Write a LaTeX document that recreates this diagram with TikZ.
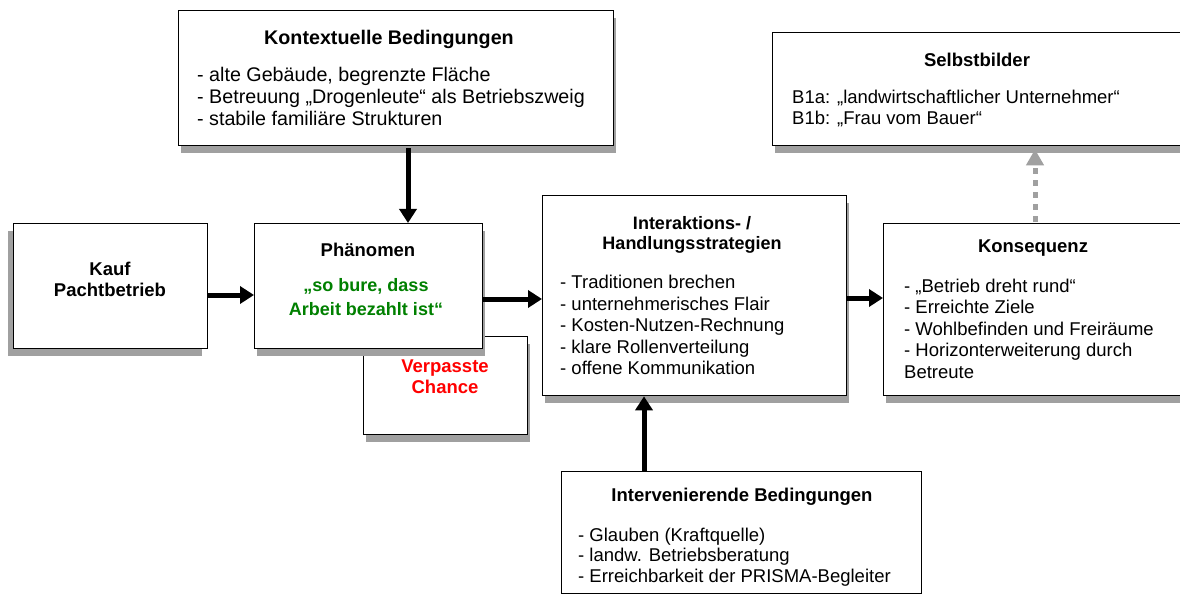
\documentclass[tikz,border=0pt]{standalone}
\usepackage{fontspec}
\setmainfont{Liberation Sans}
\usetikzlibrary{arrows.meta,shadows}
\definecolor{shadowgray}{HTML}{A0A0A0}
\definecolor{txtgreen}{HTML}{008000}
\definecolor{txtred}{HTML}{FF0000}
\begin{document}
\begin{tikzpicture}[x=1pt,y=-1pt,
  box/.style={draw=black, line width=1.3pt, fill=white, rectangle, inner sep=0pt, anchor=north west},
  shad/.style={drop shadow={shadow xshift=2pt, shadow yshift=-7pt, fill=shadowgray, opacity=1}},
  shadl/.style={drop shadow={shadow xshift=-6pt, shadow yshift=-7pt, fill=shadowgray, opacity=1}},
  txt/.style={font=\fontsize{18.5}{21.5}\selectfont, inner sep=0pt, align=left, anchor=west},
  ttl/.style={font=\fontsize{18.5}{21}\selectfont\bfseries, inner sep=0pt, align=center},
  bigtxt/.style={txt, font=\fontsize{19.7}{21.6}\selectfont},
  bigttl/.style={ttl, font=\fontsize{19.7}{21}\selectfont\bfseries},
  arr/.style={line width=5pt, -{Triangle[length=14pt,width=17pt]}},
  darr/.style={line width=5pt, draw=shadowgray, dash pattern=on 6pt off 6pt, -{Triangle[length=16pt,width=17pt,fill=shadowgray]}}
]
\useasboundingbox (0,0) rectangle (1180,604);

% boxes
\node[box, shad, minimum width=435pt, minimum height=135pt] (kontext) at (178,10) {};
\node[box, shadl, minimum width=194pt, minimum height=125pt] (kauf) at (13,223) {};
\node[box, shad, minimum width=164pt, minimum height=98pt] (verp) at (363,336) {};
\node[box, shad, minimum width=228pt, minimum height=125pt] (phaen) at (254,223) {};
\node[box, shad, minimum width=304pt, minimum height=200pt] (inter) at (542,195) {};
\node[box, shad, minimum width=307pt, minimum height=172pt] (kons) at (883,223) {};
\node[box, shad, minimum width=418pt, minimum height=113pt] (selbst) at (772,32) {};
\node[box, minimum width=360pt, minimum height=122pt] (interv) at (561,471) {};

% texts
\node[bigttl] (kontextT) at (389,39) {Kontextuelle Bedingungen};
\node[bigtxt] (kontextL) at (197,96.5) {- alte Gebäude, begrenzte Fläche\\- Betreuung „Drogenleute“ als Betriebszweig\\- stabile familiäre Strukturen};

\node[ttl] (kaufT) at (110,279) {Kauf\\Pachtbetrieb};

\node[ttl] (phaenT) at (368,250) {Phänomen};
\node[ttl, text=txtgreen, font=\fontsize{18}{24}\selectfont\bfseries] (phaenG) at (366,297) {„so bure, dass\\Arbeit bezahlt ist“};

\node[ttl, text=txtred] (verpT) at (445,377) {Verpasste\\Chance};

\node[ttl, font=\fontsize{18}{20.5}\selectfont\bfseries] (interT) at (692,235) {Interaktions- /\\Handlungsstrategien};
\node[txt] (interL) at (560,325) {- Traditionen brechen\\- unternehmerisches Flair\\- Kosten-Nutzen-Rechnung\\- klare Rollenverteilung\\- offene Kommunikation};

\node[ttl] (konsT) at (1033,248) {Konsequenz};
\node[txt] (konsL) at (904,328.5) {- „Betrieb dreht rund“\\- Erreichte Ziele\\- Wohlbefinden und Freiräume\\- Horizonterweiterung durch\\Betreute};

\node[ttl] (selbstT) at (977,60) {Selbstbilder};
\node[txt] (selbstL) at (792,108.5) {B1a: „landwirtschaftlicher Unternehmer“\\B1b: „Frau vom Bauer“};

\node[ttl] (intervT) at (742,497) {Intervenierende Bedingungen};
\node[txt, font=\fontsize{18.5}{20.5}\selectfont] (intervL) at (578,557) {- Glauben (Kraftquelle)\\- landw. Betriebsberatung\\- Erreichbarkeit der PRISMA-Begleiter};

% connector guide coordinates
\coordinate (ka) at (408,0);
\coordinate (kb) at (0,295);
\coordinate (pb) at (0,299);
\coordinate (ib) at (0,298);
\coordinate (vb) at (644,0);
\coordinate (sb) at (1035,0);

% connectors
\draw[arr] ([yshift=-2pt]kontext.south -| ka) -- (phaen.north -| ka);
\draw[arr] (kauf.east |- kb) -- (phaen.west |- kb);
\draw[arr] (phaen.east |- pb) -- (inter.west |- pb);
\draw[arr] (inter.east |- ib) -- (kons.west |- ib);
\draw[arr] (interv.north -| vb) -- (inter.south -| vb);
\draw[darr] ([yshift=1pt]kons.north -| sb) -- ([yshift=-3pt]selbst.south -| sb);
\end{tikzpicture}
\end{document}
